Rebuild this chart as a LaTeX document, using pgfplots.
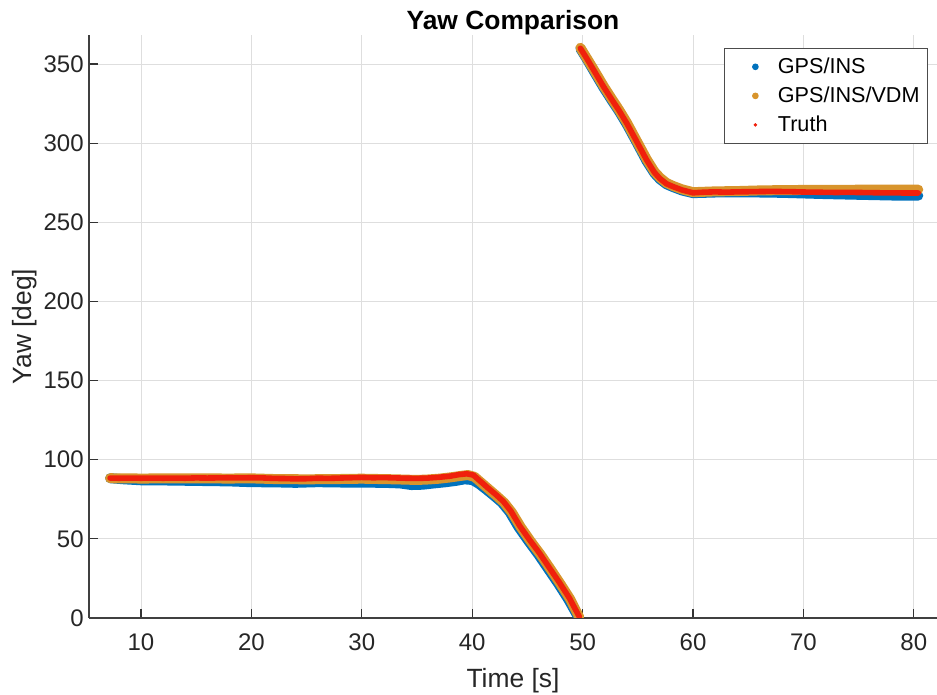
\documentclass[border=0pt]{standalone}
\usepackage{pgfplots}
\usepackage{pgfplotstable}
\usepackage{fontspec}
\setmainfont{Liberation Sans}
\pgfplotsset{compat=1.18}

\definecolor{insblue}{RGB}{0,114,189}
\definecolor{vdmorange}{RGB}{216,148,44}
\definecolor{truthred}{RGB}{240,32,12}

% GPS/INS estimate
\pgfplotstableread{
x y
7.2 88.3
8.5 87.6
10 87.0
12 86.9
15 86.6
18 86.3
20 85.8
22 85.7
24 85.4
26 85.8
28 85.6
30 85.5
32 85.4
33.5 85.0
34.5 84.0
35.5 84.2
36.5 85.0
37.5 85.7
38.5 86.6
39.3 87.6
40.0 87.2
40.6 84.8
41.3 81.0
42.0 77.0
42.7 72.8
43.4 66.8
44.2 57.4
45.1 48.5
46.0 40.0
46.9 30.8
47.8 21.6
48.7 11.8
49.6 0.6
nan nan
49.8 359.6
50.4 352.8
51.1 344.4
51.9 335.0
52.6 327.4
53.3 320.0
54.0 311.9
54.9 300.4
55.8 288.6
56.5 281.0
57.0 277.2
57.6 274.0
58.2 272.2
59.0 270.1
60.0 268.4
62 268.8
64 268.9
66 268.8
68 268.6
70 268.2
72 267.8
74 267.5
76 267.2
78 266.9
80.4 266.8
}\insdata

% GPS/INS/VDM estimate
\pgfplotstableread{
x y
7.2 88.3
10 88.1
13 88.2
15 88.2
18 88.1
20 88.2
22 87.8
25 87.6
28 87.8
30 88.0
33 87.6
35 87.2
36 87.5
37 88.0
38 88.8
39 89.8
39.6 90.3
40.2 89.2
40.8 85.6
41.5 81.4
42.2 77.2
42.9 72.8
43.6 66.6
44.4 57.4
45.3 48.4
46.2 40.0
47.1 30.8
48.0 21.4
48.9 11.6
49.7 0.4
nan nan
49.8 360.2
50.4 353.4
51.1 345.4
51.9 336.0
52.6 328.4
53.3 321.0
54.0 313.0
54.9 301.4
55.8 289.8
56.5 282.0
57.0 278.2
57.6 274.8
58.2 272.9
59.0 270.8
60.0 269.0
62 269.5
64 269.7
66 270.1
68 270.3
70 270.4
72 270.5
74 270.5
76 270.6
78 270.6
80.4 270.6
}\vdmdata

% Truth
\pgfplotstableread{
x y
7.2 88.4
8 88.3
9 88.4
10 88.3
11 88.4
12 88.3
13 88.4
14 88.3
15 88.5
16 88.4
17 88.5
18 88.6
19 88.5
20 88.6
21 88.5
22 88.2
23 88.1
24 87.9
25 88.0
26 88.3
27 88.2
28 88.4
29 88.6
30 88.8
31 88.6
32 88.7
33 88.5
34 88.3
35 88.2
36 88.4
37 88.9
38 89.6
38.8 90.6
39.5 91.1
40.1 90.3
40.7 86.6
41.4 82.3
42.1 78.2
42.8 73.8
43.5 67.6
44.3 58.2
45.2 49.3
46.1 40.9
47.0 31.6
47.9 22.4
48.8 12.6
49.7 0.8
nan nan
49.8 359.9
50.4 353.2
51.1 345.0
51.9 335.6
52.6 328.0
53.3 320.6
54.0 312.5
54.9 301.0
55.8 289.3
56.5 281.5
57.0 277.6
57.6 274.3
58.2 272.5
59.0 270.4
60.0 268.6
61 269.0
62 269.2
63 269.0
64 269.2
65 269.3
66 269.4
67 269.5
68 269.4
69 269.3
70 269.1
71 269.0
72 268.9
73 268.8
74 268.9
75 268.8
76 268.7
77 268.6
78 268.6
79 268.5
80.4 268.5
}\truthdata

\begin{document}
\begin{tikzpicture}
\path[use as bounding box] (-44.5pt,-38.5pt) rectangle (424pt,309pt);
\begin{axis}[
    scale only axis,
    width=424pt,
    height=291.5pt,
    xmin=5.29, xmax=82.1,
    ymin=0, ymax=368.3,
    xtick={10,20,...,80},
    ytick={0,50,...,350},
    axis x line*=bottom,
    axis y line*=left,
    axis line style={-, draw=black!75, line width=0.6pt},
    tick align=inside,
    major tick length=4.5pt,
    tick style={draw=black!80, line width=0.6pt},
    grid=major,
    major grid style={draw=black!13, line width=0.45pt},
    /pgf/number format/assume math mode=true,
    tick label style={font=\fontsize{12}{14}\selectfont, text=black!85},
    xticklabel style={yshift=-4.3pt},
    yticklabel style={xshift=0.85pt},
    title={Yaw Comparison},
    every axis title shift=0pt,
    title style={font=\fontsize{13.2}{15}\selectfont\bfseries, at={(axis description cs:0.5,1.0098)}, anchor=base},
    xlabel={Time [s]},
    xlabel style={font=\fontsize{13.2}{15}\selectfont, text=black!85, at={(axis description cs:0.5,-0.1186)}, anchor=base},
    ylabel={Yaw [deg]},
    ylabel style={font=\fontsize{13.2}{15}\selectfont, text=black!85, at={(axis description cs:-0.0677,0.5)}, anchor=base},
    unbounded coords=jump,
    legend cell align=left,
    legend style={
        font=\fontsize{10.8}{13}\selectfont,
        draw=black!70, line width=0.5pt, fill=white,
        at={(axis description cs:0.9894,0.9777)}, anchor=north east,
        inner xsep=2pt, inner ysep=2.5pt, row sep=1.2pt,
    },
]
\addplot[draw=insblue, line width=5pt, line cap=round, line join=round, forget plot] table {\insdata};
\addplot[draw=vdmorange, line width=5pt, line cap=round, line join=round, forget plot] table {\vdmdata};
\addplot[draw=truthred, line width=2.8pt, line cap=round, line join=round, forget plot] table {\truthdata};

\addlegendimage{legend image code/.code={\path (0pt,0pt) (22pt,0pt); \fill[insblue] (13pt,0pt) circle (1.4pt);}}
\addlegendentry{GPS/INS}
\addlegendimage{legend image code/.code={\path (0pt,0pt) (22pt,0pt); \fill[vdmorange] (13pt,0pt) circle (1.4pt);}}
\addlegendentry{GPS/INS/VDM}
\addlegendimage{legend image code/.code={\path (0pt,0pt) (22pt,0pt); \fill[truthred] (13pt,0pt) circle (0.6pt);}}
\addlegendentry{Truth}
\end{axis}
\end{tikzpicture}
\end{document}
